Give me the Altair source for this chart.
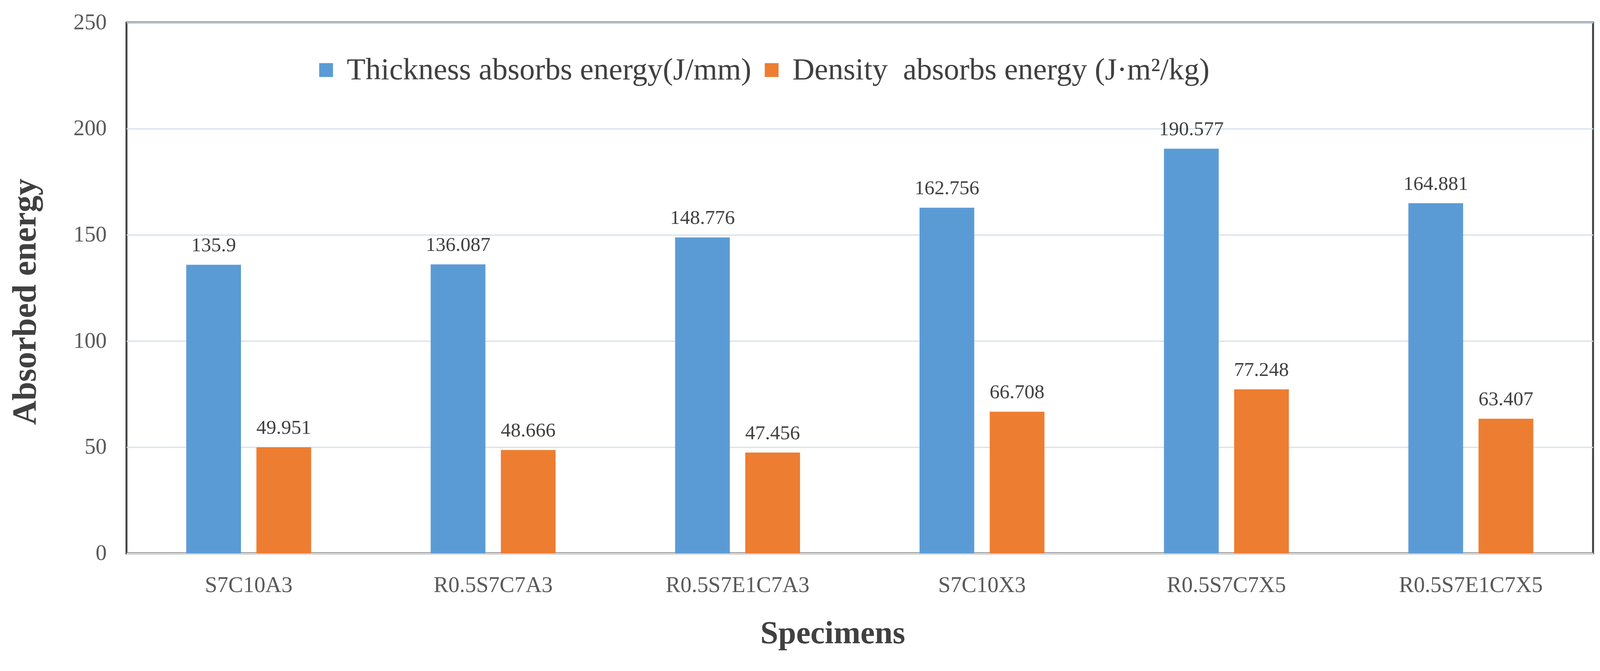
import pandas as pd
import altair as alt

specimens = ["S7C10A3", "R0.5S7C7A3", "R0.5S7E1C7A3", "S7C10X3", "R0.5S7C7X5", "R0.5S7E1C7X5"]
thickness = [135.9, 136.087, 148.776, 162.756, 190.577, 164.881]
density = [49.951, 48.666, 47.456, 66.708, 77.248, 63.407]
series = ["Thickness absorbs energy(J/mm)", "Density\u00a0 absorbs energy (J·m²/kg)"]
colors = ["#5B9BD5", "#ED7D31"]
y_ticks = [0, 50, 100, 150, 200, 250]

FONT = "Liberation Serif"

rows = []
for s, t, d in zip(specimens, thickness, density):
    rows.append({"specimen": s, "series": series[0], "value": t, "label": str(t)})
    rows.append({"specimen": s, "series": series[1], "value": d, "label": str(d)})
df = pd.DataFrame(rows)

x_enc = alt.X(
    "specimen:N",
    sort=specimens,
    scale=alt.Scale(paddingInner=0.489, paddingOuter=0.2445),
    axis=alt.Axis(
        title="Specimens", labelAngle=0, ticks=False, domainColor="#d9d9d9", domainWidth=4,
        labelFont=FONT, labelFontSize=58, labelColor="#595959", labelPadding=54, labelLimit=0,
        titleFont=FONT, titleFontSize=84, titleFontWeight="bold", titleColor="#404040",
        titleX=1843, titleY=234, titleBaseline="alphabetic", titleAlign="center",
    ),
)
xoff_enc = alt.XOffset("series:N", sort=series, scale=alt.Scale(paddingInner=0.22, paddingOuter=0))
y_enc = alt.Y(
    "value:Q",
    scale=alt.Scale(domain=[0, 250], nice=False),
    axis=alt.Axis(
        title="Absorbed energy", values=y_ticks, ticks=False, domain=False,
        gridColor="#d6e0ec", gridWidth=3,
        labelFont=FONT, labelFontSize=58, labelColor="#595959", labelPadding=52,
        titleFont=FONT, titleFontSize=88, titleFontWeight="bold", titleColor="#404040",
        titleAngle=270, titleX=-264, titleY=728, titleBaseline="middle", titleAlign="center",
    ),
)

bars = alt.Chart(df).mark_bar().encode(
    x=x_enc,
    xOffset=xoff_enc,
    y=y_enc,
    color=alt.Color(
        "series:N",
        sort=series,
        scale=alt.Scale(domain=series, range=colors),
        legend=alt.Legend(
            orient="none", legendX=481, legendY=84, direction="horizontal", title=None,
            symbolType="square", symbolSize=1300, symbolStrokeWidth=0,
            labelFont=FONT, labelFontSize=80, labelColor="#404040", labelOffset=14,
            columnPadding=12, labelLimit=0, padding=0,
        ),
    ),
)

labels = alt.Chart(df).mark_text(
    font=FONT, fontSize=52, color="#404040", baseline="bottom", dy=-24
).encode(
    x=alt.X("specimen:N", sort=specimens),
    xOffset=alt.XOffset("series:N", sort=series),
    y="value:Q",
    text="label:N",
)

chart = alt.layer(bars, labels).properties(
    width=3828,
    height=1385,
    padding={"left": 322, "top": 34, "right": 10, "bottom": 270},
    autosize=alt.AutoSizeParams(type="none"),
    background="white",
).configure_view(stroke="#404040", strokeWidth=5)

chart.save("out.html", embed_options={"renderer": "svg", "actions": False})
